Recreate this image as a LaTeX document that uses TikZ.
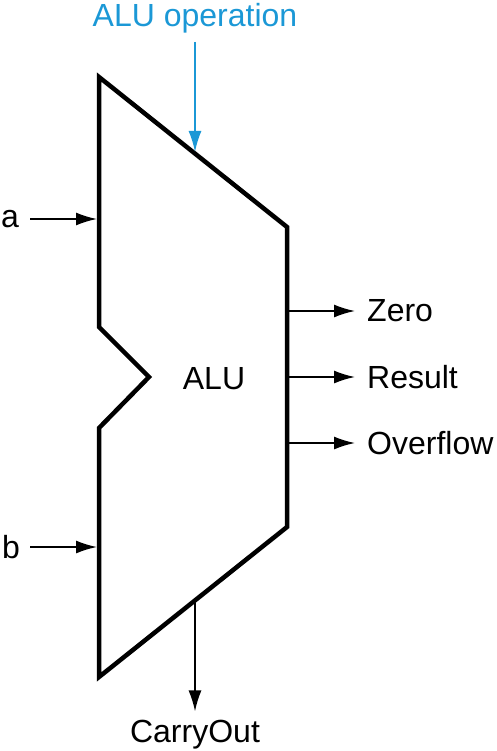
\documentclass[tikz,border=0pt]{standalone}
\usepackage{fontspec}
\setmainfont{Liberation Sans}
\usepackage{xcolor}
\usetikzlibrary{arrows.meta,positioning}
\definecolor{opblue}{RGB}{27,152,214}

\begin{document}
\begin{tikzpicture}[x=1pt, y=-1pt,
    every node/.style={font=\fontsize{32}{38}\selectfont, inner sep=0pt},
    alubody/.style={draw=black, line width=4.5pt, line join=miter},
    sig/.style={-{Latex[length=21pt,width=13pt]}, line width=1.8pt},
    ctrl/.style={sig, draw=opblue, -{Latex[length=21pt,width=13pt,fill=opblue]}}]
    \useasboundingbox (0,0) rectangle (497,751);
    % Body
    \coordinate (tl) at (99,77);
    \coordinate (tr) at (287,227);
    \coordinate (br) at (287,527);
    \coordinate (bl) at (99,677);
    \coordinate (nb) at (99,428);
    \coordinate (np) at (149,377);
    \coordinate (nt) at (99,327);
    \draw[alubody] (tl) -- (tr) -- (br) -- (bl) -- (nb) -- (np) -- (nt) -- cycle;
    \node (alu) at (214,379) {ALU};

    % Ports on the body
    \coordinate (ain) at (97,219);
    \coordinate (bin) at (97,547);
    \coordinate (opin) at (195,152);
    \coordinate (zeroout) at (287,311);
    \coordinate (resout) at (287,377);
    \coordinate (ovfout) at (287,443);
    \coordinate (coout) at (195,602);

    % Labels
    \node[text=opblue, anchor=base] (op) at (195,27) {ALU operation};
    \node (a) at (10,219) {a};
    \node (b) at (11,547) {b};
    \node[anchor=west] (zero) at (367,311) {Zero};
    \node[anchor=west] (res) at (367,377) {Result};
    \node[anchor=west] (ovf) at (367,443) {Overflow};
    \node[anchor=base] (co) at (195,742) {CarryOut};

    % Arrows
    \draw[ctrl, shorten <=8pt] (op.south) -- (opin);
    \draw[sig, shorten <=11pt] (a.east) -- (ain);
    \draw[sig, shorten <=10pt] (b.east) -- (bin);
    \draw[sig, shorten >=12pt] (zeroout) -- (zero.west);
    \draw[sig, shorten >=12pt] (resout) -- (res.west);
    \draw[sig, shorten >=12pt] (ovfout) -- (ovf.west);
    \draw[sig, shorten >=8pt] (coout) -- (co.north);
\end{tikzpicture}
\end{document}
